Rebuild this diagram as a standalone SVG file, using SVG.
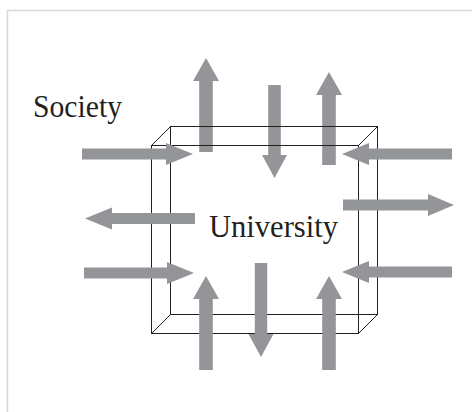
<svg xmlns="http://www.w3.org/2000/svg" width="472" height="412" viewBox="0 0 472 412">
  <style>
    .frame { fill: #ffffff; stroke: #d6d6d6; stroke-width: 1.5; }
    .edge { fill: none; stroke: #231f20; stroke-width: 1; }
    .arrow { fill: #939598; stroke: none; }
    .label { font-family: "Liberation Serif", "Times New Roman", serif; font-size: 31px; fill: #231f20; }
  </style>
  <rect width="472" height="412" fill="#ffffff"/>
  <rect class="frame" x="7.5" y="10.5" width="470" height="410"/>

  <!-- flows leaving/entering through the top face (drawn beneath the box outline) -->
  <g id="flows-top">
    <polygon class="arrow" points="199.2,152 199.2,81 193,81 206,58 219,81 212.8,81 212.8,152"/>
    <polygon class="arrow" points="268.2,85 280.8,85 280.8,155 287,155 274.5,178 262,155 268.2,155"/>
    <polygon class="arrow" points="322.2,165 322.2,95 316,95 329,72 342,95 335.8,95 335.8,165"/>
  </g>

  <!-- the university as an open box -->
  <g id="university-box">
    <rect class="edge" x="170.5" y="126.5" width="207" height="188"/>
    <rect class="edge" x="151.5" y="145.5" width="207" height="188"/>
    <path class="edge" d="M151.5,145.5 L170.5,126.5 M358.5,145.5 L377.5,126.5 M151.5,333.5 L170.5,314.5 M358.5,333.5 L377.5,314.5"/>
  </g>

  <!-- side and bottom flows -->
  <g id="connectors">
    <polygon class="arrow" points="82,148.5 166,148.5 166,143 193,154 166,165 166,159.5 82,159.5"/>
    <polygon class="arrow" points="452,148.5 369,148.5 369,143 342,154 369,165 369,159.5 452,159.5"/>
    <polygon class="arrow" points="343,199.5 428,199.5 428,194 454,205 428,216 428,210.5 343,210.5"/>
    <polygon class="arrow" points="195,213 112,213 112,207.5 85,218.5 112,229.5 112,224 195,224"/>
    <polygon class="arrow" points="84,267.5 167,267.5 167,262 194,273 167,284 167,278.5 84,278.5"/>
    <polygon class="arrow" points="452,266.5 369,266.5 369,261 342,272 369,283 369,277.5 452,277.5"/>
    <polygon class="arrow" points="199.2,370 199.2,299 193,299 206,276 219,299 212.8,299 212.8,370"/>
    <polygon class="arrow" points="254.8,263 267.2,263 267.2,334 273.5,334 261,357 248.5,334 254.8,334"/>
    <polygon class="arrow" points="322.2,370 322.2,299 316,299 329,276 342,299 335.8,299 335.8,370"/>
  </g>

  <g id="society">
    <text class="label" x="33" y="117" textLength="89" lengthAdjust="spacingAndGlyphs">Society</text>
  </g>
  <g id="university">
    <text class="label" x="209" y="237" textLength="129" lengthAdjust="spacingAndGlyphs">University</text>
  </g>
</svg>
